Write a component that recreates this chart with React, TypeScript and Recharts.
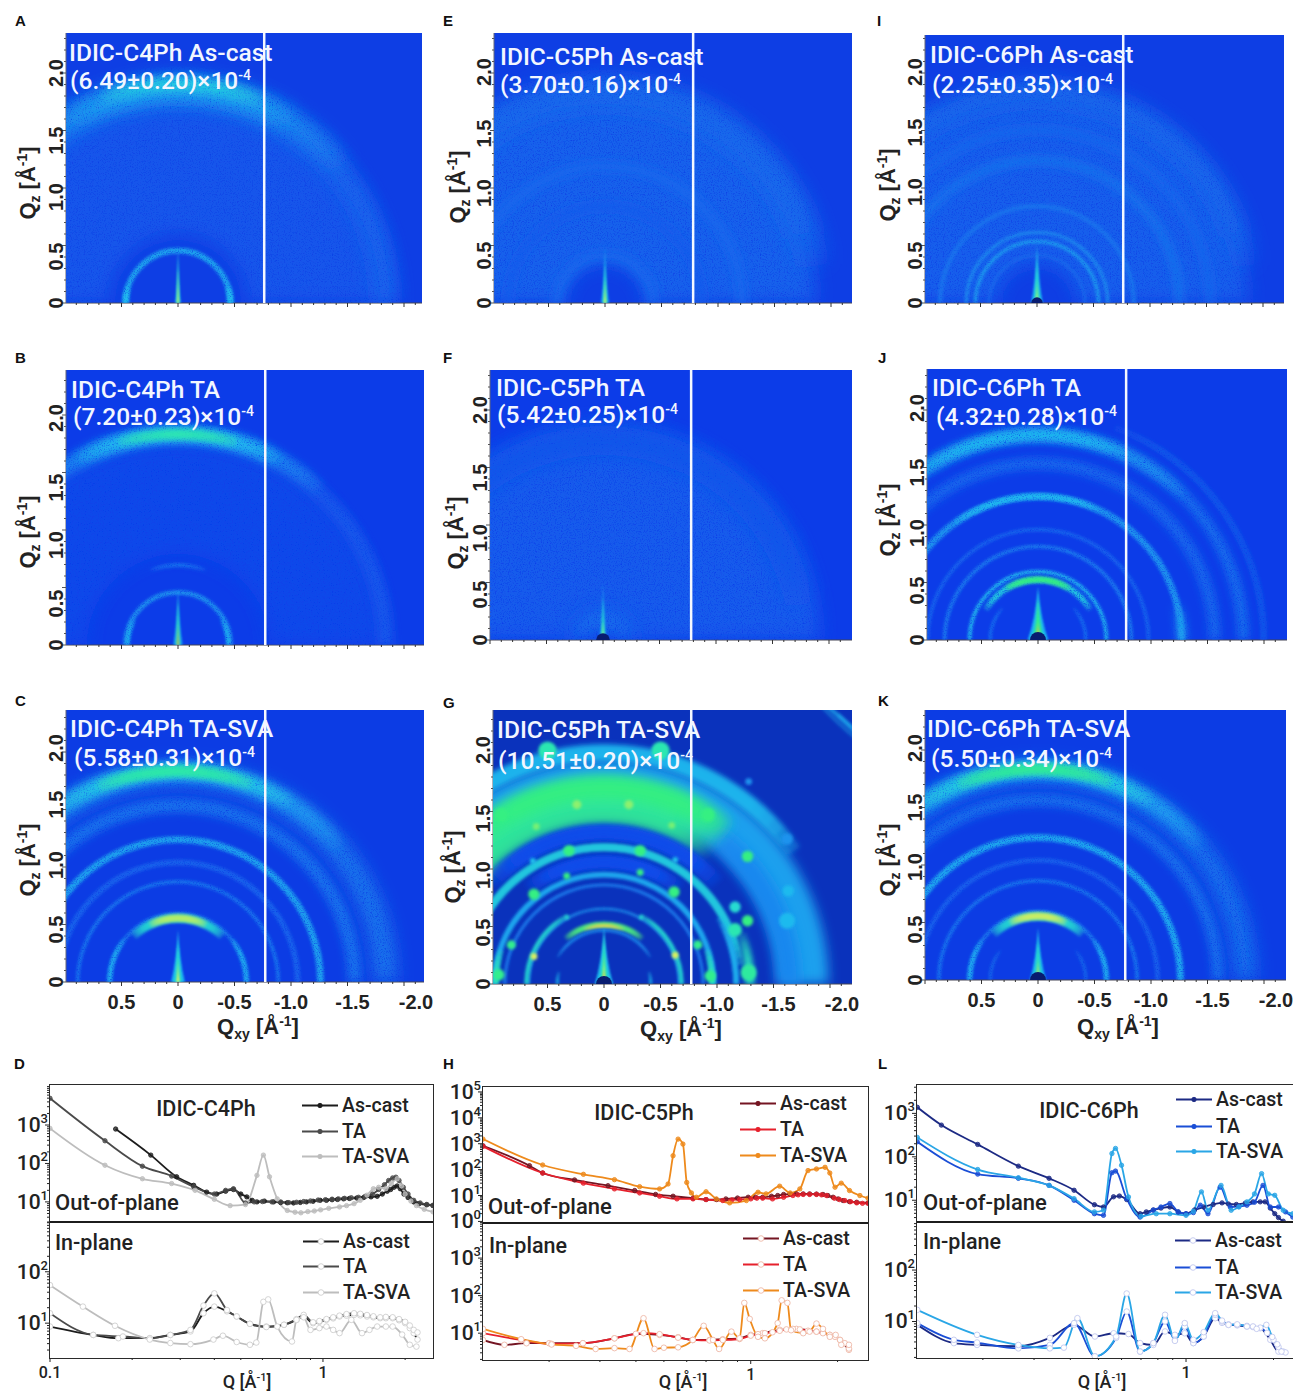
import React from "react";
import {
  ScatterChart,
  Scatter,
  LineChart,
  Line,
  XAxis,
  YAxis,
  CartesianGrid,
} from "recharts";

type Ring = [number, number, number, number, number]; // q, dq, from deg, to deg, intensity
type Spike = [number, number, number]; // half width, height, intensity
type Spot = [number, number, number, number]; // qxy, qz, radius, intensity
type Pt = [number, number]; // Q, I

// ---- GIWAXS scattering features, in A^-1 ----
const ringsA: Ring[] = [
  [1.25, 1.3, 0, 180, 0.1], [1.82, 0.2, 0, 180, 0.15], [1.87, 0.18, 40, 140, 0.28], [1.88, 0.15, 58, 122, 0.38], [1.92, 0.12, 70, 112, 0.5],
  [0.46, 0.05, 0, 180, 0.36], [0.46, 0.05, 0, 18, 0.44], [0.46, 0.05, 162, 180, 0.44],
];
const ringsE: Ring[] = [
  [1.1, 1.5, 0, 180, 0.14], [1.85, 0.3, 0, 170, 0.17], [1.2, 0.1, 0, 180, 0.16], [0.85, 0.08, 0, 180, 0.12], [0.42, 0.1, 0, 180, 0.16],
];
const ringsI: Ring[] = [
  [1.1, 1.5, 0, 180, 0.13], [1.85, 0.22, 0, 170, 0.17], [1.25, 0.08, 0, 180, 0.2], [1.52, 0.08, 0, 180, 0.16], [0.85, 0.04, 0, 180, 0.2],
  [0.62, 0.03, 0, 180, 0.27], [0.54, 0.03, 0, 180, 0.33], [0.42, 0.02, 0, 180, 0.18],
];
const ringsB: Ring[] = [
  [1.3, 1.0, 0, 180, 0.05], [1.82, 0.14, 0, 180, 0.1], [1.85, 0.13, 48, 132, 0.26], [1.85, 0.13, 62, 118, 0.44], [1.85, 0.09, 74, 106, 0.62],
  [0.7, 0.03, 70, 110, 0.22], [0.46, 0.04, 0, 180, 0.3], [0.44, 0.03, 0, 30, 0.42], [0.44, 0.03, 150, 180, 0.42],
];
const ringsF: Ring[] = [
  [1.1, 1.6, 0, 180, 0.12], [1.75, 0.25, 0, 170, 0.1], [0.2, 0.22, 0, 180, 0.18],
];
const ringsJ: Ring[] = [
  [1.55, 0.1, 0, 180, 0.17], [1.8, 0.09, 0, 180, 0.2], [1.8, 0.09, 0, 135, 0.32], [1.8, 0.08, 55, 115, 0.45], [1.98, 0.06, 110, 180, 0.1],
  [1.26, 0.06, 0, 180, 0.3], [1.26, 0.05, 55, 115, 0.42], [1.26, 0.08, 0, 14, 0.36], [1.26, 0.08, 166, 180, 0.36], [0.82, 0.03, 0, 180, 0.24], [0.97, 0.03, 0, 180, 0.16],
  [0.6, 0.03, 0, 180, 0.44], [0.53, 0.05, 30, 150, 0.5], [0.53, 0.05, 58, 122, 0.7], [0.42, 0.02, 0, 42, 0.24], [0.42, 0.02, 138, 180, 0.24],
];
const ringsC: Ring[] = [
  [1.82, 0.18, 0, 180, 0.24], [1.85, 0.14, 35, 140, 0.32], [1.85, 0.12, 56, 122, 0.48], [1.85, 0.1, 68, 110, 0.64], [1.55, 0.12, 0, 180, 0.2], [1.25, 0.06, 0, 180, 0.34],
  [1.05, 0.05, 0, 180, 0.14], [0.88, 0.03, 0, 180, 0.22], [0.6, 0.03, 0, 180, 0.22], [0.6, 0.04, 0, 38, 0.38], [0.6, 0.04, 142, 180, 0.38], [0.56, 0.07, 46, 134, 0.55], [0.56, 0.06, 64, 116, 0.82],
];
const ringsK: Ring[] = [
  [1.82, 0.18, 0, 180, 0.22], [1.85, 0.14, 35, 140, 0.34], [1.85, 0.12, 56, 122, 0.5], [1.85, 0.1, 68, 110, 0.66], [1.58, 0.1, 0, 180, 0.2], [1.25, 0.06, 0, 180, 0.36],
  [1.05, 0.04, 0, 180, 0.14], [0.87, 0.03, 0, 180, 0.22], [0.6, 0.03, 0, 180, 0.24], [0.6, 0.04, 0, 35, 0.38], [0.6, 0.04, 145, 180, 0.38], [0.56, 0.07, 46, 134, 0.55], [0.56, 0.06, 64, 116, 0.84], [0.42, 0.02, 0, 38, 0.2], [0.42, 0.02, 142, 180, 0.2],
];
const ringsG: Ring[] = [
  [1.75, 0.44, 0, 180, 0.34], [1.62, 0.2, 125, 180, 0.26], [2.03, 0.14, 35, 145, 0.42], [1.6, 0.42, 0, 128, 0.66], [1.72, 0.2, 50, 128, 0.7],
  [1.33, 0.14, 42, 138, 0.06], [1.33, 0.1, 50, 130, 0.06], [1.2, 0.07, 8, 172, 0.5], [1.07, 0.12, 52, 128, 0.06], [1.07, 0.09, 60, 120, 0.06], [0.96, 0.05, 0, 180, 0.36], [0.87, 0.025, 0, 180, 0.24], [0.66, 0.02, 0, 180, 0.3],
  [0.68, 0.035, 0, 62, 0.55], [0.68, 0.035, 118, 180, 0.55], [0.52, 0.05, 50, 130, 0.72], [0.51, 0.03, 70, 110, 0.88], [0.47, 0.02, 30, 150, 0.3], [0.41, 0.02, 0, 15, 0.45], [0.41, 0.02, 165, 180, 0.45],
  [0.95, 0.05, 0, 18, 0.6], [0.95, 0.05, 162, 180, 0.6], [1.28, 0.08, 160, 180, 0.6], [1.16, 0.05, 150, 180, 0.4], [3.13, 0.03, 125, 140, 0.4],
];

const spikesA: Spike[] = [[0.025, 0.5, 0.36], [0.012, 0.42, 0.6], [0.007, 0.3, 0.86]];
const spikesE: Spike[] = [[0.035, 0.5, 0.36], [0.018, 0.36, 0.6], [0.009, 0.2, 0.86]];
const spikesI: Spike[] = [[0.05, 0.52, 0.4], [0.025, 0.38, 0.58], [0.012, 0.2, 0.82]];
const spikesB: Spike[] = [[0.04, 0.5, 0.36], [0.016, 0.4, 0.62], [0.008, 0.2, 0.92]];
const spikesF: Spike[] = [[0.03, 0.5, 0.36], [0.015, 0.36, 0.62], [0.008, 0.16, 0.86]];
const spikesJ: Spike[] = [[0.09, 0.47, 0.42], [0.05, 0.36, 0.68], [0.02, 0.16, 0.9]];
const spikesC: Spike[] = [[0.06, 0.46, 0.42], [0.03, 0.35, 0.58], [0.012, 0.2, 0.86]];
const spikesK: Spike[] = [[0.07, 0.46, 0.42], [0.035, 0.35, 0.6], [0.014, 0.18, 0.88]];
const spikesG: Spike[] = [[0.08, 0.5, 0.42], [0.04, 0.42, 0.62], [0.015, 0.25, 0.86], [0.006, 0.12, 1]];

const spotsG: Spot[] = [
  [0.62, 0.78, 0.05, 0.7], [-0.62, 0.8, 0.05, 0.7], [0.33, 0.94, 0.03, 0.7], [-0.32, 0.97, 0.03, 0.7],
  [0.31, 1.16, 0.05, 0.7], [-0.32, 1.16, 0.05, 0.7], [0.6, 1.37, 0.03, 0.76], [-0.6, 1.38, 0.03, 0.76],
  [0.24, 1.56, 0.04, 0.78], [-0.22, 1.56, 0.04, 0.78], [0.5, 2.03, 0.08, 0.62], [-0.5, 2.03, 0.08, 0.62],
  [0.62, 0.24, 0.03, 0.85], [-0.63, 0.25, 0.03, 0.85], [0.82, 0.34, 0.04, 0.68], [0.93, 0.08, 0.05, 0.68],
  [0.33, 0.58, 0.02, 0.55], [-0.33, 0.58, 0.02, 0.55], [0.63, 1.07, 0.025, 0.45], [-0.63, 1.08, 0.025, 0.45],
  [-1.27, 0.55, 0.05, 0.7], [-1.27, 1.11, 0.05, 0.7], [-1.16, 0.47, 0.06, 0.62], [-1.16, 0.67, 0.05, 0.55],
  [-0.92, 1.47, 0.06, 0.7], [0.91, 1.47, 0.06, 0.7], [-0.83, 0.34, 0.04, 0.68], [-0.94, 0.07, 0.05, 0.68],
  [-1.28, 0.1, 0.07, 0.65], [-1.62, 0.55, 0.07, 0.42], [-1.63, 0.81, 0.05, 0.42], [-1.62, 1.26, 0.05, 0.3], [-1.28, 1.76, 0.03, 0.3],
];

const xTicksHeat = [1, 0.9, 0.8, 0.7, 0.6, 0.5, 0.4, 0.3, 0.2, 0.1, 0, -0.1, -0.2, -0.3, -0.4, -0.5, -0.6, -0.7, -0.8, -0.9, -1, -1.1, -1.2, -1.3, -1.4, -1.5, -1.6, -1.7, -1.8, -1.9, -2, -2.1];
const yTicksHeat = [0, 0.1, 0.2, 0.3, 0.4, 0.5, 0.6, 0.7, 0.8, 0.9, 1, 1.1, 1.2, 1.3, 1.4, 1.5, 1.6, 1.7, 1.8, 1.9, 2, 2.1, 2.2, 2.3];

// ---- 1D line cuts ----
const c4OopAsCast: Pt[] = [[0.174, 787], [0.234, 165], [0.291, 45], [0.336, 27], [0.375, 18], [0.408, 16], [0.44, 19], [0.47, 21], [0.5, 16], [0.526, 13.5], [0.55, 11], [0.573, 10], [0.61, 10.5], [0.659, 10], [0.7, 9.6], [0.74, 9.5], [0.78, 9.4], [0.826, 9.7], [0.87, 10], [0.92, 10.4], [0.977, 11], [1.03, 11], [1.08, 11.4], [1.13, 11.6], [1.19, 12], [1.25, 12.3], [1.33, 12.6], [1.41, 13], [1.5, 13.5], [1.58, 14], [1.65, 16], [1.72, 19], [1.77, 21], [1.82, 24], [1.87, 26], [1.92, 22], [1.98, 16], [2.05, 13], [2.15, 10], [2.25, 9], [2.4, 8.4], [2.53, 8]];
const c4OopTa: Pt[] = [[0.1, 4960], [0.159, 389], [0.218, 85], [0.279, 47], [0.336, 24.7], [0.4, 16], [0.44, 20], [0.47, 22], [0.52, 9.4], [0.56, 10], [0.6, 10.2], [0.65, 10], [0.7, 10], [0.75, 9.6], [0.8, 9.8], [0.85, 10.2], [0.9, 10.6], [0.96, 11.2], [1.02, 11.4], [1.08, 11.8], [1.14, 12], [1.2, 12.4], [1.27, 12.8], [1.35, 13.2], [1.43, 14], [1.52, 16], [1.6, 21], [1.68, 28], [1.74, 36], [1.8, 42], [1.85, 44], [1.9, 36], [1.97, 24], [2.05, 16], [2.15, 11], [2.27, 9.4], [2.4, 8.6], [2.53, 8.2]];
const c4OopSva: Pt[] = [[0.1, 818], [0.159, 90], [0.218, 40], [0.279, 30], [0.34, 20], [0.4, 11.7], [0.457, 8], [0.52, 8.5], [0.573, 49], [0.605, 165], [0.637, 45], [0.68, 12], [0.74, 6], [0.79, 5.4], [0.83, 5.2], [0.88, 5.6], [0.93, 5.8], [0.98, 6.2], [1.05, 6.8], [1.15, 7.4], [1.22, 8], [1.3, 9], [1.37, 11], [1.45, 15], [1.53, 22], [1.6, 24], [1.7, 22], [1.78, 30], [1.87, 40], [1.94, 26], [2, 16], [2.1, 10.5], [2.2, 8], [2.35, 6.4], [2.53, 5.5]];
const c4IpAsCast: Pt[] = [[0.1, 8.6], [0.144, 5.9], [0.178, 5.1], [0.232, 5.1], [0.276, 5.9], [0.327, 6.9], [0.365, 15.6], [0.4, 21], [0.445, 17], [0.483, 13.5], [0.54, 9.7], [0.62, 8.6], [0.72, 9.3], [0.8, 11.6], [0.85, 13.5], [0.92, 10], [0.97, 10.6], [1.03, 11.6], [1.09, 12.4], [1.15, 13.5], [1.22, 14], [1.3, 14.5], [1.37, 14.2], [1.45, 13.5], [1.53, 13], [1.62, 12.5], [1.7, 12.5], [1.8, 12.5], [1.9, 11.4], [2, 10], [2.08, 8], [2.15, 6.4], [2.22, 4.8]];
const c4IpTa: Pt[] = [[0.1, 15.6], [0.144, 5.9], [0.185, 5.5], [0.232, 5.1], [0.276, 5.9], [0.327, 7.4], [0.365, 22], [0.4, 38], [0.445, 18], [0.483, 13.5], [0.54, 9.7], [0.62, 8.4], [0.72, 9.3], [0.8, 12], [0.85, 14.5], [0.92, 10.4], [0.97, 11], [1.03, 12], [1.09, 13], [1.15, 14], [1.22, 15], [1.3, 15.6], [1.37, 15.2], [1.45, 14.4], [1.53, 13.6], [1.62, 13], [1.7, 13.2], [1.8, 13], [1.9, 12], [2, 10.6], [2.08, 9], [2.15, 7.4], [2.22, 6.6]];
const c4IpSva: Pt[] = [[0.1, 55], [0.132, 21], [0.173, 8.9], [0.232, 4.8], [0.276, 4.1], [0.327, 3.9], [0.397, 4.8], [0.43, 5.7], [0.483, 4.3], [0.54, 3.8], [0.57, 4.2], [0.605, 26], [0.63, 29], [0.68, 8.6], [0.77, 4.4], [0.8, 11.6], [0.85, 13], [0.9, 7.4], [0.97, 8], [1.03, 8.6], [1.09, 7.4], [1.15, 6.4], [1.27, 11.6], [1.39, 6.4], [1.48, 7.4], [1.58, 8.6], [1.7, 8.6], [1.8, 8.6], [1.95, 6], [2.08, 3.8], [2.2, 3.5]];

const c5OopAsCast: Pt[] = [[0.118, 832], [0.171, 142], [0.19, 74], [0.245, 40], [0.32, 24], [0.396, 15.6], [0.468, 11], [0.538, 9.4], [0.631, 7.9], [0.7, 7], [0.76, 7], [0.82, 7.4], [0.9, 8], [0.98, 8.6], [1.04, 8.6], [1.1, 8.6], [1.18, 9.4], [1.24, 10], [1.3, 11], [1.37, 11.4], [1.44, 11.6], [1.52, 11.6], [1.6, 11.6], [1.69, 11.4], [1.78, 11], [1.85, 10], [1.93, 8.6], [2.01, 7.4], [2.09, 6.4], [2.2, 5.8], [2.33, 5.5], [2.55, 5.2]];
const c5OopTa: Pt[] = [[0.118, 790], [0.19, 74], [0.263, 30], [0.337, 18], [0.412, 12.6], [0.483, 9.4], [0.555, 7.4], [0.631, 7.4], [0.7, 7], [0.8, 6.4], [0.86, 6.8], [0.915, 7], [1, 7.4], [1.05, 7.9], [1.1, 7.9], [1.19, 7.4], [1.3, 8.6], [1.4, 10], [1.46, 10.6], [1.52, 11], [1.6, 11], [1.69, 11], [1.76, 10.6], [1.83, 10], [1.95, 7.9], [2.03, 7], [2.12, 6.4], [2.22, 5.8], [2.33, 5.2], [2.44, 5], [2.55, 5]];
const c5OopSva: Pt[] = [[0.118, 1510], [0.19, 151], [0.263, 66], [0.337, 41], [0.412, 22], [0.483, 18], [0.517, 28], [0.538, 345], [0.56, 1510], [0.582, 970], [0.6, 32], [0.623, 12.6], [0.648, 8.6], [0.7, 14], [0.76, 7.4], [0.845, 5.2], [0.966, 6.4], [1.06, 13.4], [1.13, 11.6], [1.26, 23], [1.37, 12.6], [1.48, 18], [1.58, 92], [1.69, 106], [1.81, 123], [1.88, 74], [1.96, 21], [2.06, 30], [2.2, 15.6], [2.39, 10], [2.55, 7.9]];
const c5IpAsCast: Pt[] = [[0.118, 6.6], [0.14, 4.9], [0.167, 5.4], [0.2, 5.4], [0.262, 5.4], [0.337, 7.3], [0.4, 9.6], [0.483, 9], [0.56, 7.8], [0.63, 6.6], [0.72, 6.6], [0.8, 6.9], [0.915, 7.3], [1, 9], [1.1, 10], [1.26, 12.3], [1.44, 13], [1.69, 11], [1.88, 9], [2.04, 6.6], [2.19, 3.6]];
const c5IpTa: Pt[] = [[0.118, 10], [0.16, 6.6], [0.204, 5.2], [0.262, 5.4], [0.337, 7.3], [0.425, 10], [0.483, 9.4], [0.56, 7.6], [0.63, 6.6], [0.72, 6.4], [0.8, 6.6], [0.915, 7], [1, 8.6], [1.06, 9.4], [1.12, 10], [1.19, 10.6], [1.26, 11.6], [1.33, 12.6], [1.4, 13], [1.48, 12.6], [1.58, 11.6], [1.69, 11], [1.78, 10], [1.88, 9], [1.96, 8], [2.04, 6.6], [2.12, 5.4], [2.19, 3.9]];
const c5IpSva: Pt[] = [[0.118, 13], [0.16, 6.9], [0.204, 5], [0.248, 4.6], [0.29, 3.8], [0.337, 4], [0.38, 3.8], [0.425, 25], [0.464, 3.8], [0.5, 4.1], [0.56, 4.2], [0.63, 6.6], [0.687, 15.7], [0.74, 6.6], [0.777, 3.8], [0.857, 11], [0.915, 7.3], [0.95, 64], [0.992, 24], [1.06, 8], [1.12, 7.3], [1.24, 18.5], [1.28, 75], [1.34, 64], [1.38, 12], [1.52, 10], [1.6, 11], [1.69, 18], [1.78, 13], [1.88, 8], [1.97, 9], [2.06, 4.9], [2.19, 4.9]];

const c6OopAsCast: Pt[] = [[0.119, 1380], [0.144, 537], [0.192, 193], [0.265, 61], [0.338, 32], [0.412, 17], [0.484, 7.9], [0.52, 7], [0.563, 12], [0.59, 12.5], [0.625, 10.4], [0.695, 4.9], [0.73, 5.4], [0.772, 6], [0.82, 6.6], [0.88, 7], [0.94, 5.4], [1, 4.9], [1.07, 6], [1.15, 7], [1.24, 8], [1.33, 8.7], [1.4, 8.2], [1.49, 8], [1.6, 8.6], [1.7, 9.2], [1.8, 9.2], [1.87, 9.2], [1.95, 6.6], [2.02, 4.9], [2.08, 4], [2.16, 3.3], [2.24, 2.9], [2.33, 2.65]];
const c6OopTa: Pt[] = [[0.119, 222], [0.192, 40], [0.265, 32], [0.338, 22], [0.412, 10], [0.484, 4.9], [0.52, 4.5], [0.556, 43], [0.572, 47], [0.625, 10.9], [0.695, 4.1], [0.772, 5.9], [0.82, 7], [0.88, 8.4], [0.94, 5.4], [1, 4.9], [1.06, 5.2], [1.12, 7.7], [1.19, 4.9], [1.31, 20], [1.42, 7], [1.52, 7.2], [1.62, 7.7], [1.72, 9], [1.84, 22], [1.95, 7], [2.08, 7], [2.2, 5.4], [2.33, 4.1]];
const c6OopSva: Pt[] = [[0.119, 279], [0.192, 51], [0.265, 33], [0.338, 22], [0.412, 10.9], [0.484, 5.4], [0.52, 5.9], [0.556, 119], [0.572, 156], [0.6, 64], [0.634, 11.9], [0.7, 4.3], [0.79, 4.9], [0.88, 4.9], [1, 4.5], [1.06, 5.6], [1.13, 15.6], [1.19, 5.9], [1.32, 22], [1.43, 5.9], [1.52, 7], [1.62, 9.2], [1.72, 14], [1.82, 41], [1.92, 14], [2.02, 13], [2.16, 5.9], [2.33, 4.9]];
const c6IpAsCast: Pt[] = [[0.119, 8.6], [0.159, 3.8], [0.191, 3.5], [0.265, 3.3], [0.34, 4.8], [0.412, 8.6], [0.486, 5.1], [0.564, 5.9], [0.634, 5.7], [0.695, 3.8], [0.772, 3.5], [0.847, 6.4], [0.916, 5.5], [0.99, 5.9], [1.06, 3.8], [1.15, 5.1], [1.26, 11.6], [1.33, 9.4], [1.4, 8.6], [1.5, 8.4], [1.62, 8], [1.7, 7.8], [1.8, 7.4], [1.95, 4.4], [2.08, 2.6], [2.16, 2.6]];
const c6IpTa: Pt[] = [[0.119, 9.3], [0.159, 4.4], [0.191, 3.9], [0.265, 3], [0.34, 3.5], [0.412, 9.3], [0.486, 2.1], [0.575, 4.8], [0.625, 15.6], [0.695, 2.6], [0.772, 3.8], [0.847, 10], [0.916, 4.4], [0.99, 8], [1.06, 3.8], [1.15, 5.1], [1.26, 13.5], [1.33, 10], [1.4, 8.8], [1.5, 8.6], [1.62, 8.2], [1.7, 8], [1.8, 7.6], [1.9, 6], [2, 4.4], [2.08, 3.2], [2.2, 2.5]];
const c6IpSva: Pt[] = [[0.119, 16.8], [0.191, 5.5], [0.265, 3.5], [0.34, 3], [0.38, 3.1], [0.423, 11.6], [0.486, 2.1], [0.575, 5.1], [0.625, 35], [0.695, 2.6], [0.772, 3.8], [0.847, 13.5], [0.916, 4.2], [0.99, 9.3], [1.06, 4.4], [1.15, 6.2], [1.26, 14.5], [1.33, 10.4], [1.4, 8.6], [1.5, 8.8], [1.62, 8], [1.75, 7.2], [1.89, 8.6], [1.98, 5], [2.06, 3.6], [2.13, 2.6]];

const xTicksLog = [0.1, 0.2, 0.3, 0.4, 0.5, 0.6, 0.7, 0.8, 0.9, 1, 2];
const yMajorLog = [1, 10, 100, 1000, 10000, 100000];

const S_X = 113; // px per A^-1 along Qxy
const S_Y = 115; // px per A^-1 along Qz
const RING_PX = 114; // ring radius scale

const BODY = "Roboto, 'Noto Sans', sans-serif";
const AXIS = "'Liberation Sans', Arial, sans-serif";

const JET: [number, number[]][] = [
  [0, [12, 60, 232]],
  [0.12, [20, 92, 236]],
  [0.25, [26, 130, 238]],
  [0.45, [32, 196, 238]],
  [0.58, [40, 226, 200]],
  [0.7, [52, 240, 130]],
  [0.86, [232, 240, 90]],
  [1, [232, 48, 32]],
];

function jet(v: number) {
  for (let i = 1; i < JET.length; i++) {
    if (v <= JET[i][0]) {
      const [a, ca] = JET[i - 1];
      const [b, cb] = JET[i];
      const t = (v - a) / (b - a);
      return `rgb(${ca.map((c, k) => Math.round(c + (cb[k] - c) * t)).join(",")})`;
    }
  }
  return "rgb(232,48,32)";
}

function arcPath(cx: number, cy: number, r: number, from: number, to: number) {
  const a = (from * Math.PI) / 180;
  const b = (to * Math.PI) / 180;
  const large = to - from > 180 ? 1 : 0;
  return `M${cx - r * Math.cos(a)} ${cy - r * Math.sin(a)}A${r} ${r} 0 ${large} 1 ${cx - r * Math.cos(b)} ${cy - r * Math.sin(b)}`;
}

interface Panel {
  id: string;
  letter: string;
  lx: number;
  ly: number;
  left: number;
  top: number;
  w: number;
  h: number;
  cx: number;
  bg: string;
  lineQ: number;
  rings: Ring[];
  spikes: Spike[];
  spots?: Spot[];
  stop?: number;
  title: string;
  value: string;
  t1: number[];
  t2: number[];
  qz: number[];
  qxy?: number[];
  yShift: number[]; // label nudges for 0.5, 1.0, 1.5, 2.0
}

const panels: Panel[] = [
  { id: "A", letter: "A", lx: 15, ly: 20, left: 66, top: 33, w: 356, h: 270, cx: 178, bg: "#0e3ee4", lineQ: 0.763, rings: ringsA, spikes: spikesA, title: "IDIC-C4Ph As-cast", value: "(6.49±0.20)×10", t1: [69, 53], t2: [70, 81], qz: [28, 183], yShift: [11, 9, 10, 0] },
  { id: "E", letter: "E", lx: 443, ly: 20, left: 494, top: 33, w: 358, h: 270, cx: 605, bg: "#0e3ee4", lineQ: 0.78, rings: ringsE, spikes: spikesE, title: "IDIC-C5Ph As-cast", value: "(3.70±0.16)×10", t1: [500, 57], t2: [500, 85], qz: [458, 187], yShift: [10, 5, 3, -1] },
  { id: "I", letter: "I", lx: 877, ly: 20, left: 925, top: 35, w: 359, h: 268, cx: 1037, bg: "#0e3ee4", lineQ: 0.763, rings: ringsI, spikes: spikesI, stop: 0.05, title: "IDIC-C6Ph As-cast", value: "(2.25±0.35)×10", t1: [930, 55], t2: [932, 85], qz: [888, 185], yShift: [10, 4, 2, -1] },
  { id: "B", letter: "B", lx: 15, ly: 357, left: 66, top: 370, w: 358, h: 275, cx: 178, bg: "#0c3ce8", lineQ: 0.772, rings: ringsB, spikes: spikesB, title: "IDIC-C4Ph TA", value: "(7.20±0.23)×10", t1: [71, 390], t2: [73, 417], qz: [28, 532], yShift: [16, 15, 15, 3] },
  { id: "F", letter: "F", lx: 443, ly: 357, left: 490, top: 370, w: 362, h: 270, cx: 603, bg: "#0c3ce8", lineQ: 0.78, rings: ringsF, spikes: spikesF, stop: 0.06, title: "IDIC-C5Ph TA", value: "(5.42±0.25)×10", t1: [496, 388], t2: [497, 415], qz: [456, 533], yShift: [12, 13, 10, 0] },
  { id: "J", letter: "J", lx: 878, ly: 357, left: 927, top: 369, w: 360, h: 271, cx: 1038, bg: "#0c3ce8", lineQ: 0.78, rings: ringsJ, spikes: spikesJ, stop: 0.07, title: "IDIC-C6Ph TA", value: "(4.32±0.28)×10", t1: [932, 388], t2: [936, 417], qz: [888, 520], yShift: [8, 8, 5, -2] },
  { id: "C", letter: "C", lx: 15, ly: 700, left: 66, top: 710, w: 358, h: 272, cx: 178, bg: "#0c3ce4", lineQ: 0.772, rings: ringsC, spikes: spikesC, title: "IDIC-C4Ph TA-SVA", value: "(5.58±0.31)×10", t1: [70, 729], t2: [74, 758], qz: [28, 860], qxy: [258, 1027], yShift: [5, -2, -5, -4] },
  { id: "G", letter: "G", lx: 443, ly: 702, left: 493, top: 710, w: 359, h: 274, cx: 604, bg: "#0a32bc", lineQ: 0.772, rings: ringsG, spikes: spikesG, spots: spotsG, stop: 0.07, title: "IDIC-C5Ph TA-SVA", value: "(10.51±0.20)×10", t1: [497, 730], t2: [498, 761], qz: [453, 867], qxy: [681, 1029], yShift: [6, 6, 7, -4] },
  { id: "K", letter: "K", lx: 878, ly: 700, left: 925, top: 710, w: 361, h: 270, cx: 1038, bg: "#0c3ce4", lineQ: 0.772, rings: ringsK, spikes: spikesK, stop: 0.07, title: "IDIC-C6Ph TA-SVA", value: "(5.50±0.34)×10", t1: [927, 729], t2: [931, 759], qz: [888, 860], qxy: [1118, 1027], yShift: [7, 2, 0, -2] },
];

const MARGIN_L = 44;

function heatTickLabel(v: number) {
  if (v === 0) return "0";
  return v.toFixed(1);
}

function isMajor(v: number) {
  return Math.abs(v * 2 - Math.round(v * 2)) < 1e-6;
}

function HeatPanel({ p }: { p: Panel }) {
  const xMax = (p.cx - p.left) / S_X;
  const xMin = -(p.left + p.w - p.cx) / S_X;
  const yMax = p.h / S_Y;
  const clipId = `clip-${p.id}`;
  const labelled = !!p.qxy;
  const ringRows = p.rings.map(([q, dq, from, to, level]) => ({ x: 0, y: 0, q, dq, from, to, level }));
  const spikeRows = p.spikes.map(([half, height, level]) => ({ x: 0, y: 0, half, height, level }));
  const spotRows = (p.spots ?? []).map(([x, y, r, level]) => ({ x, y, r, level }));
  const stopRows = p.stop ? [{ x: 0, y: 0, r: p.stop }] : [];
  const seamRows = [{ x: -p.lineQ, y: 0 }];

  const ringShape = (props: any) => {
    const d = props.payload;
    const size = d.dq >= 0.15 ? "soft" : d.dq >= 0.08 ? "med" : "fine";
    // strong features and the saturated G panel show no visible speckle
    const plain = d.level >= 0.55 || p.id === "G";
    const filter = `url(#${size}${plain ? "Plain" : ""})`;
    // arcs that stop short of the sample horizon fade out over a few stacked steps
    const whole = d.from <= 0 && d.to >= 180;
    const steps = whole ? [0] : [0, 1, 2, 3, 4, 5];
    return (
      <g clipPath={`url(#${clipId})`}>
        <g filter={filter}>
          {steps.map((k) => (
            <path
              key={k}
              d={arcPath(
                props.cx,
                props.cy,
                d.q * RING_PX,
                d.from > 0 ? d.from + k * 3 : d.from,
                d.to < 180 ? d.to - k * 3 : d.to,
              )}
              fill="none"
              stroke={jet(d.level)}
              strokeOpacity={whole ? 1 : 0.38}
              strokeWidth={d.dq * RING_PX}
            />
          ))}
        </g>
      </g>
    );
  };
  const spikeShape = (props: any) => {
    const d = props.payload;
    const hw = d.half * RING_PX;
    const tip = d.height * RING_PX;
    return (
      <g clipPath={`url(#${clipId})`}>
        <path
          d={`M${props.cx - hw} ${props.cy}Q${props.cx - hw * 0.25} ${props.cy - tip * 0.4} ${props.cx} ${props.cy - tip}Q${props.cx + hw * 0.25} ${props.cy - tip * 0.4} ${props.cx + hw} ${props.cy}Z`}
          fill={jet(d.level)}
          filter="url(#tiny)"
        />
      </g>
    );
  };
  const spotShape = (props: any) => {
    const d = props.payload;
    return (
      <g clipPath={`url(#${clipId})`}>
        <circle cx={props.cx} cy={props.cy} r={d.r * RING_PX} fill={jet(d.level)} filter="url(#finePlain)" />
      </g>
    );
  };
  const stopShape = (props: any) => (
    <g clipPath={`url(#${clipId})`}>
      <circle cx={props.cx} cy={props.cy} r={props.payload.r * RING_PX} fill="#081c70" />
    </g>
  );
  const seamShape = (props: any) => (
    <line x1={props.cx} x2={props.cx} y1={props.cy} y2={2} stroke="#f4f8ff" strokeWidth={2.5} />
  );

  const xTick = (props: any) => {
    const v = props.payload.value;
    const major = isMajor(v);
    const shift = v === -2 ? 12 : v === -1.5 ? 5 : 0;
    return (
      <g>
        <line x1={props.x} x2={props.x} y1={props.y} y2={props.y + (major ? 4 : 2)} stroke="#333" strokeWidth={1} />
        {labelled && major && v <= 0.5 && (
          <text x={props.x + shift} y={props.y + 27} textAnchor="middle" fontFamily={AXIS} fontWeight={700} fontSize={20} fill="#222">
            {heatTickLabel(v)}
          </text>
        )}
      </g>
    );
  };
  const yTick = (props: any) => {
    const v = props.payload.value;
    const major = isMajor(v);
    const tx = props.x - 3;
    const ty = props.y + (v > 0 ? p.yShift[Math.round(v * 2) - 1] ?? 0 : 0);
    return (
      <g>
        <line x1={props.x} x2={props.x - (major ? 4 : 2)} y1={props.y} y2={props.y} stroke="#555" strokeWidth={1} />
        {major && (
          <text
            x={tx}
            y={ty}
            transform={`rotate(-90 ${tx} ${ty})`}
            textAnchor="middle"
            fontFamily={AXIS}
            fontWeight={700}
            fontSize={20}
            fill="#222"
          >
            {v === 0 ? "0" : v.toFixed(1)}
          </text>
        )}
      </g>
    );
  };

  return (
    <div style={{ position: "absolute", left: p.left - MARGIN_L, top: p.top - 2 }}>
      <ScatterChart width={p.w + MARGIN_L + 20} height={p.h + 48} margin={{ top: 2, right: 20, bottom: 0, left: 0 }}>
        <defs>
          <clipPath id={clipId}>
            <rect x={MARGIN_L} y={2} width={p.w} height={p.h} />
          </clipPath>
        </defs>
        <CartesianGrid horizontal={false} vertical={false} fill={p.bg} />
        <XAxis
          type="number"
          dataKey="x"
          domain={[xMin, xMax]}
          reversed
          allowDataOverflow
          ticks={xTicksHeat.filter((v) => v >= xMin && v <= xMax)}
          interval={0}
          height={46}
          tickSize={0}
          tickMargin={0}
          tickLine={false}
          axisLine={{ stroke: "#445" }}
          tick={xTick}
        />
        <YAxis
          type="number"
          dataKey="y"
          domain={[0, yMax]}
          allowDataOverflow
          ticks={yTicksHeat.filter((v) => v <= yMax)}
          interval={0}
          width={MARGIN_L}
          tickSize={0}
          tickMargin={0}
          tickLine={false}
          axisLine={{ stroke: "#667" }}
          tick={yTick}
        />
        <Scatter data={ringRows} shape={ringShape} isAnimationActive={false} />
        {spotRows.length > 0 && <Scatter data={spotRows} shape={spotShape} isAnimationActive={false} />}
        <Scatter data={spikeRows} shape={spikeShape} isAnimationActive={false} />
        {stopRows.length > 0 && <Scatter data={stopRows} shape={stopShape} isAnimationActive={false} />}
        <Scatter data={seamRows} shape={seamShape} isAnimationActive={false} />
      </ScatterChart>
    </div>
  );
}

function HeatText({ p }: { p: Panel }) {
  const base: React.CSSProperties = {
    position: "absolute",
    fontFamily: BODY,
    fontWeight: 500,
    fontSize: 24.5,
    lineHeight: "26px",
    color: "#f2f6ff",
    whiteSpace: "nowrap",
    transform: "translateY(-50%)",
  };
  const axisLabel: React.CSSProperties = {
    position: "absolute",
    fontFamily: AXIS,
    fontWeight: 700,
    fontSize: 22,
    lineHeight: "22px",
    color: "#222",
    whiteSpace: "nowrap",
  };
  const small = { fontSize: 14, lineHeight: 0 };
  return (
    <>
      <div style={{ ...base, left: p.t1[0], top: p.t1[1] }}>{p.title}</div>
      <div style={{ ...base, left: p.t2[0], top: p.t2[1] }}>
        {p.value}
        <sup style={small}>-4</sup>
      </div>
      <div style={{ ...axisLabel, left: p.qz[0], top: p.qz[1], transform: "translate(-50%,-50%) rotate(-90deg)" }}>
        Q<sub style={small}>z</sub> [Å<sup style={small}>-1</sup>]
      </div>
      {p.qxy && (
        <div style={{ ...axisLabel, left: p.qxy[0], top: p.qxy[1], transform: "translate(-50%,-50%)" }}>
          Q<sub style={small}>xy</sub> [Å<sup style={small}>-1</sup>]
        </div>
      )}
      <PanelLetter letter={p.letter} x={p.lx} y={p.ly} />
    </>
  );
}

function PanelLetter({ letter, x, y }: { letter: string; x: number; y: number }) {
  return (
    <div
      style={{
        position: "absolute",
        left: x,
        top: y,
        transform: "translateY(-50%)",
        fontFamily: AXIS,
        fontWeight: 700,
        fontSize: 15,
        color: "#111",
      }}
    >
      {letter}
    </div>
  );
}

interface Cut {
  name: string;
  color: string;
  top: Pt[];
  bottom: Pt[];
}

interface LogPlot {
  letter: string;
  lx: number;
  left: number;
  right: number;
  top: number;
  mid: number;
  bottom: number;
  xDomain: [number, number];
  topDomain: [number, number];
  bottomDomain: [number, number];
  topMajor: number[];
  bottomMajor: number[];
  markerEdge: string;
  cuts: Cut[];
  title: string;
  titleAt: number[];
  oop: number[];
  ip: number[];
  legTop: number[];
  legBottom: number[];
  xLabel: number[];
  showTenth: boolean;
}

const logPlots: LogPlot[] = [
  {
    letter: "D", lx: 14, left: 50, right: 433, top: 1085, mid: 1222, bottom: 1358,
    xDomain: [0.1, 2.53], topDomain: [3, 11000], bottomDomain: [2.1, 930], topMajor: [10, 100, 1000], bottomMajor: [10, 100],
    markerEdge: "#cfcfcf",
    cuts: [
      { name: "As-cast", color: "#1c1c1c", top: c4OopAsCast, bottom: c4IpAsCast },
      { name: "TA", color: "#4a4a4a", top: c4OopTa, bottom: c4IpTa },
      { name: "TA-SVA", color: "#bdbdbd", top: c4OopSva, bottom: c4IpSva },
    ],
    title: "IDIC-C4Ph", titleAt: [206, 1108], oop: [55, 1202], ip: [55, 1242], legTop: [302, 1105, 1131, 1156], legBottom: [303, 1241, 1266, 1292], xLabel: [247, 1381], showTenth: true,
  },
  {
    letter: "H", lx: 443, left: 483, right: 868, top: 1087, mid: 1223, bottom: 1360,
    xDomain: [0.118, 2.55], topDomain: [0.87, 155000], bottomDomain: [1.93, 8600], topMajor: [1, 10, 100, 1000, 10000, 100000], bottomMajor: [10, 100, 1000],
    markerEdge: "#eeb9a8",
    cuts: [
      { name: "As-cast", color: "#741522", top: c5OopAsCast, bottom: c5IpAsCast },
      { name: "TA", color: "#e6202c", top: c5OopTa, bottom: c5IpTa },
      { name: "TA-SVA", color: "#ee8a1c", top: c5OopSva, bottom: c5IpSva },
    ],
    title: "IDIC-C5Ph", titleAt: [644, 1112], oop: [488, 1206], ip: [489, 1245], legTop: [740, 1103, 1129, 1155], legBottom: [743, 1238, 1264, 1290], xLabel: [683, 1381], showTenth: false,
  },
  {
    letter: "L", lx: 878, left: 917, right: 1296, top: 1085, mid: 1222, bottom: 1358,
    xDomain: [0.1187, 2.39], topDomain: [3.16, 4500], bottomDomain: [1.95, 860], topMajor: [10, 100, 1000], bottomMajor: [10, 100],
    markerEdge: "#c2c8ee",
    cuts: [
      { name: "As-cast", color: "#1c2a84", top: c6OopAsCast, bottom: c6IpAsCast },
      { name: "TA", color: "#1a4ed6", top: c6OopTa, bottom: c6IpTa },
      { name: "TA-SVA", color: "#2aa6e6", top: c6OopSva, bottom: c6IpSva },
    ],
    title: "IDIC-C6Ph", titleAt: [1089, 1110], oop: [923, 1202], ip: [923, 1241], legTop: [1176, 1099, 1126, 1151], legBottom: [1175, 1240, 1267, 1292], xLabel: [1102, 1381], showTenth: false,
  },
];

function minorTicks(lo: number, hi: number) {
  const out: number[] = [];
  yMajorLog.concat([0.1]).forEach((m) => {
    for (let k = 1; k < 10; k++) {
      const v = m * k;
      if (v >= lo && v <= hi) out.push(v);
    }
  });
  return out.sort((a, b) => a - b);
}

function exponent(v: number) {
  return Math.round(Math.log10(v));
}

function LogChart({
  plot,
  part,
}: {
  plot: LogPlot;
  part: "top" | "bottom";
}) {
  const isTop = part === "top";
  const chartTop = isTop ? plot.top : plot.mid;
  const chartBottom = isTop ? plot.mid : plot.bottom;
  const frameW = plot.right - plot.left;
  const plotH = chartBottom - chartTop;
  const domain = isTop ? plot.topDomain : plot.bottomDomain;
  const major = isTop ? plot.topMajor : plot.bottomMajor;
  const axisW = 46;
  const pad = 12; // room for the end labels of the y axis
  const ticksX = xTicksLog.filter((v) => v >= plot.xDomain[0] && v <= plot.xDomain[1]);

  const yTick = (props: any) => {
    const v = props.payload.value;
    const isMaj = major.some((m) => Math.abs(m - v) < 1e-6);
    return (
      <g>
        <line x1={props.x} x2={props.x - (isMaj ? 5 : 3)} y1={props.y} y2={props.y} stroke="#222" strokeWidth={1} />
        {isMaj && (
          <text x={props.x - 2} y={props.y + 7} textAnchor="end" fontFamily={BODY} fontWeight={500} fontSize={21} fill="#222">
            10
            <tspan dy={-9} fontSize={13}>
              {exponent(v)}
            </tspan>
          </text>
        )}
      </g>
    );
  };
  const xTick = (props: any) => {
    const v = props.payload.value;
    const isMaj = v === 1 || v === 0.1;
    const showLabel = v === 1 || (v === 0.1 && plot.showTenth);
    return (
      <g>
        <line x1={props.x} x2={props.x} y1={props.y} y2={props.y + (isMaj ? 4 : 2)} stroke="#222" strokeWidth={1} />
        {showLabel && (
          <text x={props.x} y={props.y + 20} textAnchor="middle" fontFamily={BODY} fontWeight={500} fontSize={16} fill="#222">
            {v}
          </text>
        )}
      </g>
    );
  };
  const innerTick = (props: any) => (
    <line x1={props.x} x2={props.x} y1={props.y} y2={props.y + 3} stroke="#222" strokeWidth={1} />
  );

  return (
    <div style={{ position: "absolute", left: plot.left - axisW, top: chartTop - pad }}>
      <LineChart
        width={frameW + axisW}
        height={plotH + pad + (isTop ? pad : 30)}
        margin={{ top: pad, right: 0, bottom: isTop ? pad : 0, left: 0 }}
      >
        <XAxis
          xAxisId="main"
          type="number"
          dataKey="q"
          scale="log"
          domain={plot.xDomain}
          allowDataOverflow
          hide={isTop}
          height={30}
          ticks={ticksX}
          interval={0}
          tickSize={0}
          tickMargin={0}
          tickLine={false}
          axisLine={false}
          tick={xTick}
        />
        {!isTop && (
          <XAxis
            xAxisId="inner"
            orientation="top"
            type="number"
            dataKey="q"
            scale="log"
            domain={plot.xDomain}
            allowDataOverflow
            height={0}
            ticks={ticksX}
            interval={0}
            tickSize={0}
            tickMargin={0}
            tickLine={false}
            axisLine={false}
            tick={innerTick}
          />
        )}
        <YAxis
          type="number"
          scale="log"
          domain={domain}
          allowDataOverflow
          width={axisW}
          ticks={minorTicks(domain[0], domain[1])}
          interval={0}
          tickSize={0}
          tickMargin={0}
          tickLine={false}
          axisLine={false}
          tick={yTick}
        />
        {plot.cuts.map((cut) => (
          <Line
            key={cut.name}
            xAxisId="main"
            data={(isTop ? cut.top : cut.bottom).map(([q, i]) => ({ q, i }))}
            dataKey="i"
            type="monotone"
            stroke={cut.color}
            strokeWidth={1.8}
            dot={
              isTop
                ? { r: 2.2, fill: cut.color, stroke: cut.color, strokeWidth: 0.8, fillOpacity: 0.75 }
                : { r: 2.8, fill: "#fff", stroke: plot.markerEdge, strokeWidth: 0.9 }
            }
            isAnimationActive={false}
          />
        ))}
      </LineChart>
    </div>
  );
}

function LegendRows({ plot, at, hollow }: { plot: LogPlot; at: number[]; hollow: boolean }) {
  return (
    <>
      {plot.cuts.map((cut, idx) => (
        <div key={cut.name} style={{ position: "absolute", left: at[0], top: at[idx + 1], transform: "translateY(-50%)", display: "flex", alignItems: "center" }}>
          <svg width={36} height={10} style={{ display: "block" }}>
            <line x1={0} x2={36} y1={5} y2={5} stroke={cut.color} strokeWidth={1.8} />
            <circle cx={18} cy={5} r={hollow ? 2.8 : 2.2} fill={hollow ? "#fff" : cut.color} stroke={hollow ? plot.markerEdge : cut.color} strokeWidth={0.9} />
          </svg>
          <span style={{ marginLeft: 4, fontFamily: BODY, fontWeight: 500, fontSize: 19.5, color: "#222", whiteSpace: "nowrap" }}>{cut.name}</span>
        </div>
      ))}
    </>
  );
}

function LogPanel({ plot }: { plot: LogPlot }) {
  const text: React.CSSProperties = {
    position: "absolute",
    fontFamily: BODY,
    fontWeight: 500,
    color: "#222",
    whiteSpace: "nowrap",
  };
  return (
    <>
      <LogChart plot={plot} part="top" />
      <LogChart plot={plot} part="bottom" />
      <div
        style={{
          position: "absolute",
          left: plot.left - 1,
          top: plot.top - 1,
          width: plot.right - plot.left,
          height: plot.bottom - plot.top,
          border: "1.5px solid #2a2a2a",
        }}
      />
      <div style={{ position: "absolute", left: plot.left, top: plot.mid - 1, width: plot.right - plot.left, height: 2, background: "#1c1c1c" }} />
      <div style={{ ...text, left: plot.titleAt[0], top: plot.titleAt[1], fontSize: 21.5, transform: "translate(-50%,-50%)" }}>{plot.title}</div>
      <div style={{ ...text, left: plot.oop[0], top: plot.oop[1], fontSize: 22, transform: "translateY(-50%)" }}>Out-of-plane</div>
      <div style={{ ...text, left: plot.ip[0], top: plot.ip[1], fontSize: 21.5, transform: "translateY(-50%)" }}>In-plane</div>
      <LegendRows plot={plot} at={plot.legTop} hollow={false} />
      <LegendRows plot={plot} at={plot.legBottom} hollow />
      <div style={{ ...text, left: plot.xLabel[0], top: plot.xLabel[1], fontSize: 18, transform: "translate(-50%,-50%)" }}>
        Q [Å<sup style={{ fontSize: 11, lineHeight: 0 }}>-1</sup>]
      </div>
      <PanelLetter letter={plot.letter} x={plot.lx} y={1063} />
    </>
  );
}

function grainFilter(id: string, blur: number, seed: number) {
  return (
    <filter id={id} filterUnits="userSpaceOnUse" x={-50} y={-50} width={520} height={420}>
      <feGaussianBlur stdDeviation={blur} result="b" />
      <feTurbulence type="fractalNoise" baseFrequency={0.85} numOctaves={2} seed={seed} result="n" />
      <feColorMatrix in="n" type="matrix" values="0 0 0 0 1 0 0 0 0 1 0 0 0 0 1 2.2 0 0 0 -0.15" result="a" />
      <feComposite in="b" in2="a" operator="in" />
    </filter>
  );
}

function plainFilter(id: string, blur: number) {
  return (
    <filter id={id} filterUnits="userSpaceOnUse" x={-50} y={-50} width={520} height={420}>
      <feGaussianBlur stdDeviation={blur} />
    </filter>
  );
}

export default function App() {
  return (
    <div style={{ position: "absolute", left: 0, top: 0, width: 1293, height: 1391, overflow: "hidden", background: "#fff" }}>
      <svg width={0} height={0} style={{ position: "absolute" }}>
        <defs>
          {grainFilter("soft", 9, 3)}
          {grainFilter("med", 4, 5)}
          {grainFilter("fine", 1.6, 7)}
          {plainFilter("softPlain", 6)}
          {plainFilter("medPlain", 2.5)}
          {plainFilter("finePlain", 1.6)}
          {plainFilter("tiny", 0.8)}
        </defs>
      </svg>
      {panels.map((p) => (
        <HeatPanel key={p.id} p={p} />
      ))}
      {panels.map((p) => (
        <HeatText key={p.id} p={p} />
      ))}
      {logPlots.map((plot) => (
        <LogPanel key={plot.letter} plot={plot} />
      ))}
    </div>
  );
}
